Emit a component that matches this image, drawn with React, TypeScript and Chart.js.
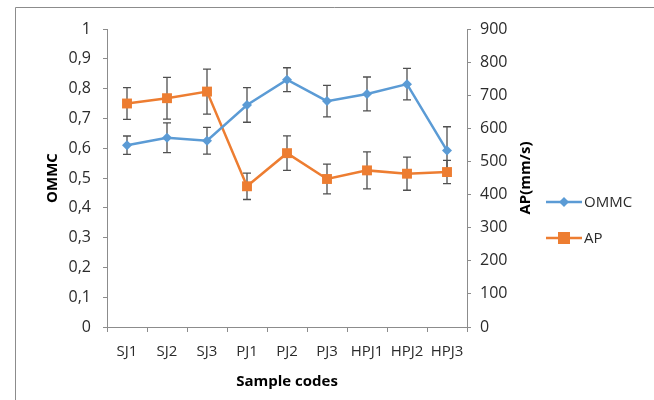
import React, { useEffect, useRef } from "react";
import { Chart, registerables } from "chart.js";

Chart.register(...registerables);

const categories = ["SJ1", "SJ2", "SJ3", "PJ1", "PJ2", "PJ3", "HPJ1", "HPJ2", "HPJ3"];
const ommcValues = [0.61, 0.635, 0.625, 0.745, 0.83, 0.758, 0.782, 0.815, 0.592];
const ommcErrors = [0.031, 0.05, 0.045, 0.058, 0.04, 0.053, 0.057, 0.053, 0.08];
const apValues = [675, 691, 711, 425, 525, 447, 473, 463, 468];
const apErrors = [48, 63, 68, 40, 52, 45, 56, 50, 35];
const leftTickLabels = ["0", "0,1", "0,2", "0,3", "0,4", "0,5", "0,6", "0,7", "0,8", "0,9", "1"];
const rightTickLabels = ["0", "100", "200", "300", "400", "500", "600", "700", "800", "900"];

const BLUE = "#5B9BD5";
const ORANGE = "#ED7D31";
const AXIS = "#8C8C8C";
const TEXT = "#2B2B2B";
const FONT = "'Open Sans', sans-serif";

const errorsById: Record<string, number[]> = { ommc: ommcErrors, ap: apErrors };

const errorBarPlugin = {
  id: "errorBars",
  beforeDatasetsDraw(chart: any) {
    const ctx = chart.ctx;
    ctx.save();
    ctx.strokeStyle = "#505050";
    ctx.lineWidth = 1.3;
    chart.data.datasets.forEach((ds: any, i: number) => {
      const meta = chart.getDatasetMeta(i);
      const scale = chart.scales[ds.yAxisID];
      const errs = errorsById[ds.errKey];
      meta.data.forEach((pt: any, j: number) => {
        const v = ds.data[j];
        const top = scale.getPixelForValue(v + errs[j]);
        const bot = scale.getPixelForValue(v - errs[j]);
        const x = pt.x;
        ctx.beginPath();
        ctx.moveTo(x, top);
        ctx.lineTo(x, bot);
        ctx.moveTo(x - 4, top);
        ctx.lineTo(x + 4, top);
        ctx.moveTo(x - 4, bot);
        ctx.lineTo(x + 4, bot);
        ctx.stroke();
      });
    });
    ctx.restore();
  },
};

const decorPlugin = {
  id: "decor",
  beforeDraw(chart: any) {
    const ctx = chart.ctx;
    ctx.save();
    ctx.strokeStyle = AXIS;
    ctx.lineWidth = 1;
    ctx.beginPath();
    ctx.moveTo(15.5, 400);
    ctx.lineTo(15.5, 7.5);
    ctx.lineTo(654, 7.5);
    ctx.stroke();
    ctx.restore();
  },
  afterDraw(chart: any) {
    const ctx = chart.ctx;
    const area = chart.chartArea;
    const midY = (area.top + area.bottom) / 2;
    ctx.save();
    ctx.fillStyle = "#000";
    ctx.font = `bold 15px ${FONT}`;
    ctx.textAlign = "center";
    ctx.textBaseline = "middle";
    // axis titles
    ctx.save();
    ctx.translate(53, midY);
    ctx.rotate(-Math.PI / 2);
    ctx.fillText("OMMC", 0, 0);
    ctx.restore();
    ctx.save();
    ctx.translate(526, midY);
    ctx.rotate(-Math.PI / 2);
    ctx.fillText("AP(mm/s)", 0, 0);
    ctx.restore();
    ctx.fillText("Sample codes", (area.left + area.right) / 2, 382);

    // legend
    const items = [
      { label: "OMMC", color: BLUE, style: "diamond", y: 202 },
      { label: "AP", color: ORANGE, style: "square", y: 238 },
    ];
    items.forEach((it) => {
      ctx.strokeStyle = it.color;
      ctx.fillStyle = it.color;
      ctx.lineWidth = 2.5;
      ctx.beginPath();
      ctx.moveTo(546, it.y);
      ctx.lineTo(582, it.y);
      ctx.stroke();
      ctx.beginPath();
      if (it.style === "diamond") {
        ctx.moveTo(564, it.y - 5);
        ctx.lineTo(569, it.y);
        ctx.lineTo(564, it.y + 5);
        ctx.lineTo(559, it.y);
        ctx.closePath();
        ctx.fill();
      } else {
        ctx.fillRect(558, it.y - 6, 12, 12);
      }
      ctx.fillStyle = TEXT;
      ctx.font = `15px ${FONT}`;
      ctx.textAlign = "left";
      ctx.fillText(it.label, 584, it.y + 1);
    });
    ctx.restore();
  },
};

export default function App() {
  const ref = useRef<HTMLCanvasElement>(null);
  useEffect(() => {
    if (!ref.current) return;
    const chart = new Chart(ref.current, {
      type: "line",
      data: {
        labels: categories,
        datasets: [
          {
            label: "OMMC",
            data: ommcValues,
            yAxisID: "y",
            errKey: "ommc",
            borderColor: BLUE,
            backgroundColor: BLUE,
            borderWidth: 2.5,
            pointStyle: "rectRot",
            pointRadius: 5,
            pointBorderWidth: 0,
            pointBackgroundColor: BLUE,
            tension: 0,
          } as any,
          {
            label: "AP",
            data: apValues,
            yAxisID: "y1",
            errKey: "ap",
            borderColor: ORANGE,
            backgroundColor: ORANGE,
            borderWidth: 2.5,
            pointStyle: "rect",
            pointRadius: 7,
            pointBorderWidth: 0,
            pointBackgroundColor: ORANGE,
            tension: 0,
          } as any,
        ],
      },
      options: {
        animation: false,
        responsive: false,
        maintainAspectRatio: false,
        layout: { padding: { top: 29, left: 0, right: 0, bottom: 0 } },
        plugins: { legend: { display: false }, tooltip: { enabled: false }, title: { display: false } },
        scales: {
          x: {
            type: "category",
            offset: true,
            grid: { offset: true, drawOnChartArea: false, color: AXIS, tickLength: 5 },
            border: { display: true, color: AXIS },
            ticks: { color: TEXT, font: { family: FONT, size: 15 }, padding: 11, maxRotation: 0, autoSkip: false },
            afterFit: (s: any) => {
              s.height = 73;
            },
          },
          y: {
            position: "left",
            min: 0,
            max: 1,
            ticks: {
              stepSize: 0.1,
              color: TEXT,
              font: { family: FONT, size: 16 },
              padding: 12,
              callback: (_v: any, i: number) => leftTickLabels[i],
            },
            grid: { drawOnChartArea: false, color: AXIS, tickLength: 4 },
            border: { display: true, color: AXIS },
            afterFit: (s: any) => {
              s.width = 107;
            },
          },
          y1: {
            position: "right",
            min: 0,
            max: 900,
            ticks: {
              stepSize: 100,
              color: TEXT,
              font: { family: FONT, size: 16 },
              padding: 9,
              callback: (_v: any, i: number) => rightTickLabels[i],
            },
            grid: { drawOnChartArea: false, color: AXIS, tickLength: 4 },
            border: { display: true, color: AXIS },
            afterFit: (s: any) => {
              s.width = 187;
            },
          },
        },
      },
      plugins: [errorBarPlugin, decorPlugin],
    });
    return () => chart.destroy();
  }, []);
  return (
    <div style={{ position: "fixed", left: 0, top: 0, width: 654, height: 400, background: "#fff" }}>
      <canvas ref={ref} width={654} height={400} style={{ width: 654, height: 400, display: "block" }} />
    </div>
  );
}
